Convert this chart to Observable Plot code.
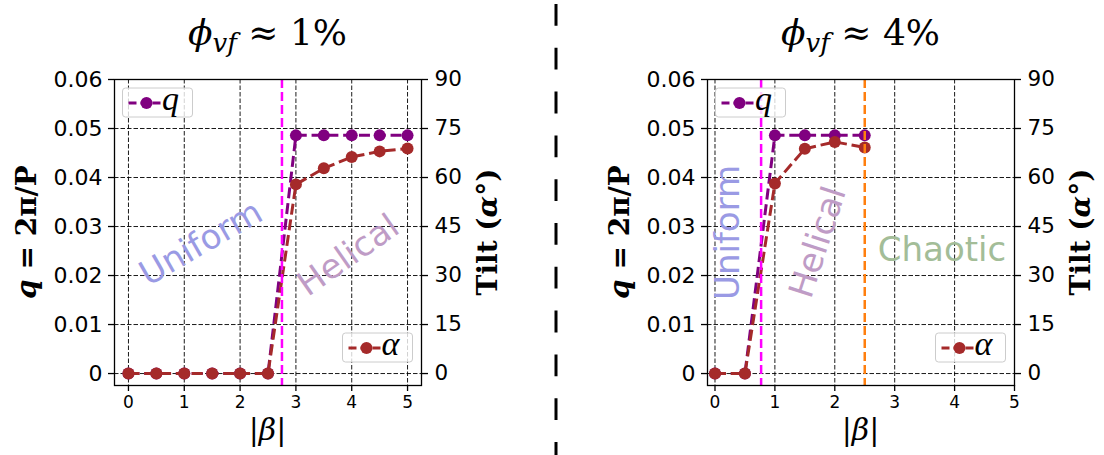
<!DOCTYPE html>
<html><head><meta charset="utf-8">
<script src="https://cdn.jsdelivr.net/npm/d3@7"></script>
<script src="https://cdn.jsdelivr.net/npm/@observablehq/plot@0.6"></script>
<style>
html,body{margin:0;padding:0;background:#fff;}
#wrap{position:relative;width:1104px;height:455px;overflow:hidden;background:#fff;}
#wrap > svg{position:absolute;top:0;}
</style></head><body><div id="wrap"></div>
<script>
// ---- data ----
const beta1 = [0, 0.5, 1, 1.5, 2, 2.5, 3, 3.5, 4, 4.5, 5];
const q1 = [0, 0, 0, 0, 0, 0, 0.0486, 0.0486, 0.0486, 0.0486, 0.0486];
const tilt1 = [0, 0, 0, 0, 0, 0, 57.9, 62.8, 66.3, 68.0, 68.9];
const beta2 = [0, 0.5, 1, 1.5, 2, 2.5];
const q2 = [0, 0, 0.0486, 0.0486, 0.0486, 0.0486];
const tilt2 = [0, 0, 58.2, 68.8, 70.9, 69.2];
const xTicks = [0, 1, 2, 3, 4, 5];
const qTicks = [0, 0.01, 0.02, 0.03, 0.04, 0.05, 0.06];
const tiltTicks = [0, 15, 30, 45, 60, 75, 90];
const panelTitles = ["1%", "4%"];
const helicalOnset = [2.75, 0.77];
const chaoticOnset = [null, 2.5];
const regionLabels1 = [
  {label: "Uniform", beta: 1.30, q: 0.0266, angle: -30, color: "#9a9ae4"},
  {label: "Helical", beta: 3.94, q: 0.0241, angle: -35, color: "#bf9cc6"}
];
const regionLabels2 = [
  {label: "Uniform", beta: 0.225, q: 0.0288, angle: -90, color: "#9a9ae4"},
  {label: "Helical", beta: 1.72, q: 0.0268, angle: -72, color: "#bf9cc6"},
  {label: "Chaotic", beta: 3.79, q: 0.0251, angle: 0, color: "#a3bd98"}
];
const qPerTilt = 0.06 / 90;

const PURPLE = "#800080", BROWN = "#a52a2a";
const SERIF = "'Liberation Serif', 'DejaVu Serif', serif";
const DSERIF = "'DejaVu Serif', serif";

function panel({beta, q, tilt, xDomain, width, left, title, helical, chaotic, labels}) {
  const L = 114, R = 421, T = 79, B = 385;
  const qData = beta.map((b, i) => ({beta: b, v: q[i]}));
  const aData = beta.map((b, i) => ({beta: b, v: tilt[i] * qPerTilt}));
  const dash = {strokeDasharray: "11,4.8", strokeLinecap: "butt", strokeWidth: 3};
  const marks = [
    Plot.gridX(xTicks, {stroke: "black", strokeOpacity: 1, strokeWidth: 0.9, strokeDasharray: "4.5,2"}),
    Plot.gridY(qTicks, {stroke: "black", strokeOpacity: 1, strokeWidth: 0.9, strokeDasharray: "4.5,2"}),
    Plot.text(labels, {x: "beta", y: "q", text: "label", rotate: "angle", fill: "color",
      fontSize: 34, fontFamily: "DejaVu Sans", textAnchor: "middle", lineAnchor: "middle"}),
    Plot.line(qData, {x: "beta", y: "v", stroke: PURPLE, ...dash}),
    Plot.dot(qData, {x: "beta", y: "v", r: 6, fill: PURPLE, stroke: null}),
    Plot.line(aData, {x: "beta", y: "v", stroke: BROWN, ...dash}),
    Plot.dot(aData, {x: "beta", y: "v", r: 6, fill: BROWN, stroke: null}),
    Plot.ruleX([helical], {stroke: "#ff00ff", strokeWidth: 2.5, strokeDasharray: "9,4"}),
    chaotic != null ? Plot.ruleX([chaotic], {stroke: "#ff7f0e", strokeWidth: 2.5, strokeDasharray: "9,4"}) : null,
    Plot.frame({stroke: "black", strokeWidth: 1.3}),
    Plot.axisX(xTicks, {tickSize: 6, tickPadding: 4, fontSize: 17, label: null, strokeWidth: 1.3}),
    Plot.axisY(qTicks, {anchor: "left", tickSize: 6, tickPadding: 6, fontSize: 22, label: null, strokeWidth: 1.3,
      tickFormat: d => d === 0 ? "0" : d.toFixed(2)}),
    Plot.axisY(tiltTicks.map(t => t * qPerTilt), {anchor: "right", tickSize: 6, tickPadding: 7, fontSize: 21.5, label: null, strokeWidth: 1.3,
      tickFormat: d => String(Math.round(d / qPerTilt))})
  ].filter(Boolean);
  const svg = Plot.plot({
    width, height: 455,
    marginLeft: L, marginRight: width - R, marginTop: T, marginBottom: 455 - B,
    style: {fontFamily: "DejaVu Sans", color: "black", background: "transparent", overflow: "visible"},
    x: {domain: xDomain, label: null},
    y: {domain: [-0.00244, 0.06], label: null},
    marks
  });
  svg.style.left = left + "px";
  const s = d3.select(svg);
  const cx = (L + R) / 2, cy = (T + B) / 2;
  // title
  const t = s.append("text").attr("x", cx).attr("y", 45).attr("text-anchor", "middle")
    .attr("font-family", DSERIF).attr("font-size", 36).attr("fill", "black");
  t.append("tspan").attr("font-style", "italic").text("ϕ");
  t.append("tspan").attr("font-style", "italic").attr("font-size", 26).attr("dy", 7).text("vf");
  t.append("tspan").attr("dy", -7).text(" ≈ " + title);
  // left label
  const yl = s.append("text").attr("transform", `translate(26,${cy}) rotate(-90)`)
    .attr("text-anchor", "middle").attr("dominant-baseline", "central")
    .attr("font-family", DSERIF).attr("font-size", 28).attr("font-weight", "bold").attr("fill", "black");
  yl.append("tspan").attr("font-style", "italic").text("q");
  yl.append("tspan").text(" = 2π/P");
  // right label
  const yr = s.append("text").attr("transform", `translate(487,${cy}) rotate(-90)`)
    .attr("text-anchor", "middle").attr("dominant-baseline", "central")
    .attr("font-family", DSERIF).attr("font-size", 28).attr("font-weight", "bold").attr("fill", "black");
  yr.append("tspan").text("Tilt (");
  yr.append("tspan").attr("font-style", "italic").text("α");
  yr.append("tspan").text("°)");
  // x label
  const xl = s.append("text").attr("x", cx).attr("y", 440).attr("text-anchor", "middle")
    .attr("font-family", DSERIF).attr("font-size", 30).attr("fill", "black");
  xl.append("tspan").text("|");
  xl.append("tspan").attr("font-style", "italic").text("β");
  xl.append("tspan").text("|");
  // legends
  function legend(x0, y0, color, sym) {
    const g = s.append("g");
    g.append("rect").attr("x", x0).attr("y", y0).attr("width", 70).attr("height", 29).attr("rx", 3)
      .attr("fill", "white").attr("fill-opacity", 0.8).attr("stroke", "#cccccc").attr("stroke-width", 1);
    g.append("line").attr("x1", x0 + 6).attr("x2", x0 + 42).attr("y1", y0 + 15).attr("y2", y0 + 15)
      .attr("stroke", color).attr("stroke-width", 3).attr("stroke-dasharray", "8,4");
    g.append("circle").attr("cx", x0 + 24).attr("cy", y0 + 15).attr("r", 6).attr("fill", color);
    g.append("text").attr("x", x0 + 48).attr("y", y0 + 22).attr("font-family", SERIF)
      .attr("font-style", "italic").attr("font-size", 34).attr("fill", "black").text(sym);
  }
  legend(L + 8.5, T + 9, PURPLE, "q");
  legend(R - 78.5, B - 52, BROWN, "α");
  return svg;
}

const wrap = document.getElementById("wrap");
wrap.appendChild(panel({beta: beta1, q: q1, tilt: tilt1, xDomain: [-0.25, 5.25], width: 552, left: 0,
  title: panelTitles[0], helical: helicalOnset[0], chaotic: chaoticOnset[0], labels: regionLabels1}));
wrap.appendChild(panel({beta: beta2, q: q2, tilt: tilt2, xDomain: [-0.125, 5], width: 511, left: 593,
  title: panelTitles[1], helical: helicalOnset[1], chaotic: chaoticOnset[1], labels: regionLabels2}));

// separator between the panels
const sep = d3.select(wrap).append("svg").attr("width", 1104).attr("height", 455)
  .style("left", "0px").style("pointer-events", "none");
sep.append("line").attr("x1", 556).attr("x2", 556).attr("y1", 4).attr("y2", 455)
  .attr("stroke", "black").attr("stroke-width", 3).attr("stroke-dasharray", "21.8,22");
</script></body></html>
